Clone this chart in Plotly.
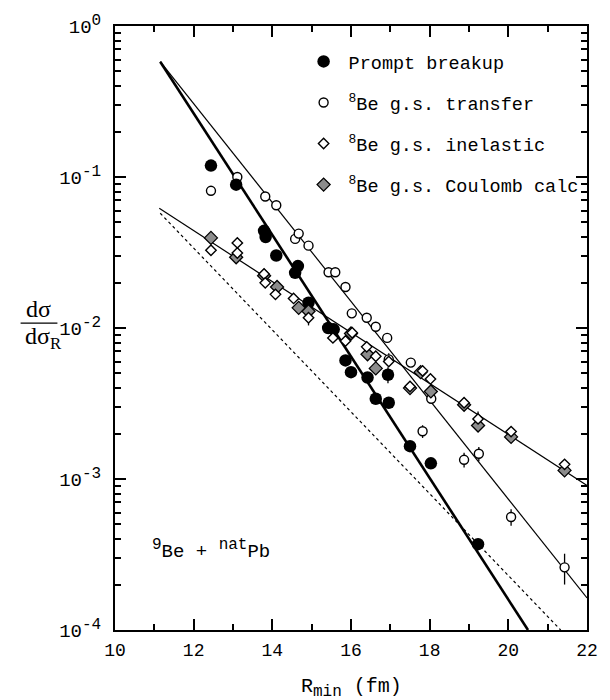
import plotly.graph_objects as go

# ---- data ----
prompt_x = [12.44, 13.08, 13.79, 13.83, 14.1, 14.65, 14.58, 14.92, 15.42, 15.56, 15.86, 16.0, 16.42, 16.94, 16.63, 16.96, 17.5, 18.03, 19.23]
prompt_y = [0.119, 0.089, 0.044, 0.040, 0.0302, 0.0257, 0.0232, 0.0147, 0.0100, 0.0098, 0.0061, 0.0051, 0.0047, 0.0049, 0.0034, 0.0032, 0.00165, 0.00127, 0.00037]
prompt_err = [0, 0, 0, 0, 0, 0, 0, 0, 0, 0, 0, 0, 0, 0.0006, 0, 0, 0, 0, 0]

transfer_x = [12.44, 13.11, 13.82, 14.1, 14.58, 14.67, 14.92, 15.43, 15.6, 15.86, 16.02, 16.4, 16.63, 16.92, 16.96, 17.52, 18.04, 17.82, 18.875, 19.25, 20.07, 21.43]
transfer_y = [0.081, 0.100, 0.0743, 0.0650, 0.0389, 0.0422, 0.0351, 0.0234, 0.0234, 0.0187, 0.0125, 0.0117, 0.0102, 0.0086, 0.0062, 0.0059, 0.0034, 0.00207, 0.00134, 0.00147, 0.00056, 0.00026]
transfer_err = [0, 0, 0, 0, 0, 0, 0, 0, 0, 0, 0, 0, 0, 0, 0.0006, 0, 0, 0.0002, 0.00015, 0.00016, 0.00007, 0.00006]

inel_x = [12.44, 13.11, 13.11, 13.79, 13.82, 14.08, 14.54, 14.92, 15.54, 15.86, 16.03, 16.4, 16.63, 16.96, 17.5, 17.82, 18.02, 18.875, 19.23, 20.07, 21.43]
inel_y = [0.0327, 0.0366, 0.0314, 0.0228, 0.0199, 0.0167, 0.0157, 0.0117, 0.0086, 0.0082, 0.0093, 0.0075, 0.0065, 0.0060, 0.0041, 0.0052, 0.0046, 0.0032, 0.0025, 0.00206, 0.00125]
inel_err = [0, 0, 0, 0, 0, 0, 0, 0.0013, 0, 0, 0, 0, 0, 0, 0, 0, 0, 0, 0.0003, 0, 0]

coul_x = [12.44, 13.08, 13.79, 14.12, 14.67, 14.92, 16.0, 16.42, 16.63, 17.5, 17.77, 18.03, 18.875, 19.23, 20.07, 21.43]
coul_y = [0.0395, 0.0294, 0.0222, 0.0187, 0.0136, 0.0129, 0.0092, 0.0067, 0.0054, 0.0040, 0.0051, 0.0038, 0.0031, 0.00226, 0.0019, 0.00114]

# fitted curves (end points of straight lines on log scale)
fit_prompt_x = [11.15, 20.5]
fit_prompt_y = [0.58, 1.0e-4]
fit_transfer_x = [11.15, 22.0]
fit_transfer_y = [0.58, 1.63e-4]
fit_inel_x = [11.125, 22.0]
fit_inel_y = [0.062, 9.06e-4]
fit_dot_x = [11.15, 21.33]
fit_dot_y = [0.0575, 1.0e-4]

x_ticks = [10, 12, 14, 16, 18, 20, 22]
y_tickvals = [1, 0.1, 0.01, 0.001, 0.0001]
y_exps = ["0", "-1", "-2", "-3", "-4"]
y_ticktext = ["10<sup><span style='font-size:16px'>%s</span></sup>" % e for e in y_exps]

FONT = "Liberation Mono"

fig = go.Figure()

# lines
fig.add_trace(go.Scatter(x=fit_dot_x, y=fit_dot_y, mode="lines", showlegend=False,
                         line=dict(color="black", width=1.2, dash="3px,3px")))
fig.add_trace(go.Scatter(x=fit_inel_x, y=fit_inel_y, mode="lines", showlegend=False,
                         line=dict(color="black", width=1.2)))
fig.add_trace(go.Scatter(x=fit_transfer_x, y=fit_transfer_y, mode="lines", showlegend=False,
                         line=dict(color="black", width=1.2)))
fig.add_trace(go.Scatter(x=fit_prompt_x, y=fit_prompt_y, mode="lines", showlegend=False,
                         line=dict(color="black", width=2.6)))

# error bars (separate traces, not in legend)
def errtrace(xs, ys, es):
    ex = [x for x, e in zip(xs, es) if e > 0]
    ey = [y for y, e in zip(ys, es) if e > 0]
    ee = [e for e in es if e > 0]
    return go.Scatter(x=ex, y=ey, mode="markers", showlegend=False,
                      marker=dict(size=1, color="rgba(0,0,0,0)"),
                      error_y=dict(type="data", array=ee, color="black", thickness=1.3, width=0))

fig.add_trace(errtrace(transfer_x, transfer_y, transfer_err))
fig.add_trace(errtrace(prompt_x, prompt_y, prompt_err))
fig.add_trace(errtrace(inel_x, inel_y, inel_err))

fig.add_trace(go.Scatter(x=transfer_x, y=transfer_y, mode="markers", name="<sup>8</sup>Be g.s. transfer",
                         legendrank=2, legendgroup="b",
                         marker=dict(symbol="circle", size=9, color="white", line=dict(color="black", width=1.4))))
fig.add_trace(go.Scatter(x=prompt_x, y=prompt_y, mode="markers", name="Prompt breakup",
                         legendrank=1, legendgroup="a",
                         marker=dict(symbol="circle", size=12.5, color="black", line=dict(color="black", width=0))))
fig.add_trace(go.Scatter(x=coul_x, y=coul_y, mode="markers", name="<sup>8</sup>Be g.s. Coulomb calc",
                         legendrank=4, legendgroup="d",
                         marker=dict(symbol="diamond", size=10, color="#8c8c8c", line=dict(color="black", width=1.3))))
fig.add_trace(go.Scatter(x=inel_x, y=inel_y, mode="markers", name="<sup>8</sup>Be g.s. inelastic",
                         legendrank=3, legendgroup="c",
                         marker=dict(symbol="diamond", size=8, color="white", line=dict(color="black", width=1.4))))

axis_common = dict(showline=True, linecolor="black", linewidth=2, mirror="ticks",
                   ticks="inside", tickcolor="black", tickwidth=1.5, ticklen=11,
                   showgrid=False, zeroline=False)

fig.update_xaxes(range=[10, 22], tickvals=x_ticks, ticklabelstandoff=2,
                 tickfont=dict(family=FONT, size=18, color="black"),
                 minor=dict(dtick=1, ticks="inside", ticklen=6, tickcolor="black", tickwidth=1.5, showgrid=False),
                 **axis_common)
fig.update_yaxes(type="log", range=[-4, 0], tickvals=y_tickvals, ticktext=y_ticktext, ticklabelstandoff=8,
                 tickfont=dict(family=FONT, size=19, color="black"),
                 minor=dict(dtick="D1", ticks="inside", ticklen=6, tickcolor="black", tickwidth=1.5, showgrid=False),
                 **axis_common)

fig.update_layout(
    width=610, height=700,
    margin=dict(l=115, r=15, t=24, b=70),
    paper_bgcolor="white", plot_bgcolor="white",
    font=dict(family=FONT, size=18, color="black"),
    legend=dict(x=0.389, y=0.972, xanchor="left", yanchor="top", bgcolor="rgba(0,0,0,0)",
                font=dict(family=FONT, size=18.5, color="black"), tracegroupgap=14,
                itemwidth=40, itemclick=False),
    annotations=[
        dict(text="R<sub><span style='font-size:16px'>min</span></sub> (fm)", xref="paper", yref="paper",
             x=0.5, y=0, yshift=-58, showarrow=False,
             font=dict(family=FONT, size=20, color="black"), yanchor="middle"),
        dict(text="dσ", xref="paper", yref="paper", x=-0.163, y=0.508, xanchor="center", yanchor="bottom",
             yshift=-1, showarrow=False, font=dict(family="Liberation Serif", size=24, color="black")),
        dict(text="dσ<sub>R</sub>", xref="paper", yref="paper", x=-0.163, xshift=5, y=0.508, xanchor="center", yanchor="top",
             yshift=2, showarrow=False, font=dict(family="Liberation Serif", size=24, color="black")),
        dict(text="<sup><span style='font-size:16px'>9</span></sup>Be + <sup><span style='font-size:16px'>nat</span></sup>Pb",
             x=10.9, y=-3.47, xref="x", yref="y",
             xanchor="left", yanchor="middle", showarrow=False,
             font=dict(family=FONT, size=19, color="black")),
    ],
    shapes=[dict(type="line", xref="paper", yref="paper", x0=-0.2, x1=-0.122, y0=0.508, y1=0.508,
                 line=dict(color="black", width=1.4))],
)

fig.write_html("out.html", config={"displayModeBar": False},
               post_script="document.body.style.margin='0px';document.body.style.overflow='hidden';")
